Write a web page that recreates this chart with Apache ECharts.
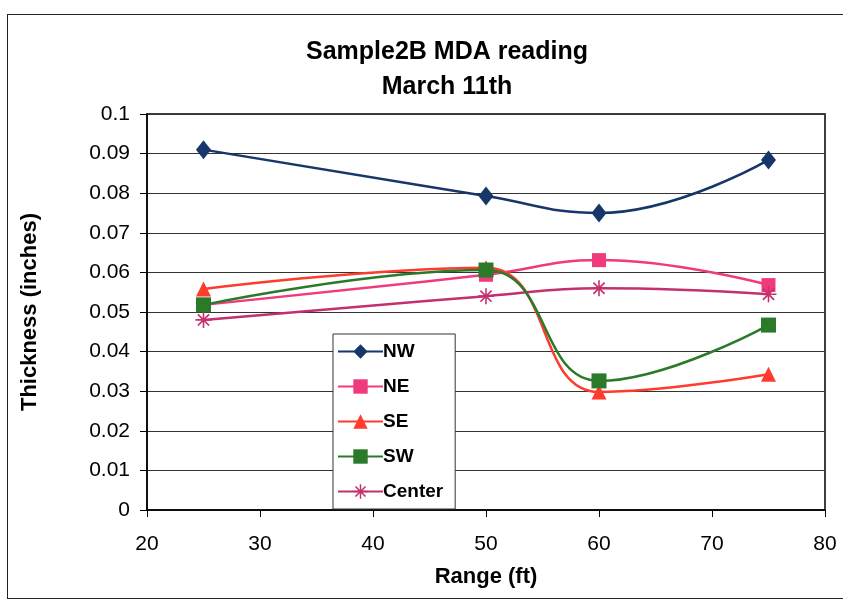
<!DOCTYPE html>
<html><head><meta charset="utf-8">
<script src="https://cdn.jsdelivr.net/npm/echarts@6/dist/echarts.min.js"></script>
<style>
html,body{margin:0;padding:0;background:#fff;}
#c{position:absolute;left:0;top:0;width:843px;height:604px;}
#frame{position:absolute;left:7px;top:14px;width:850px;height:583px;border:1.5px solid #222;pointer-events:none;}
</style></head>
<body>
<div id="c"></div>
<div id="frame"></div>
<script>
const ranges = [25, 50, 60, 75];
const nw = [0.091, 0.0793, 0.075, 0.0884];
const ne = [0.0518, 0.0594, 0.0631, 0.0568];
const se = [0.0558, 0.0612, 0.0298, 0.0343];
const sw = [0.0518, 0.0606, 0.0326, 0.0467];
const center = [0.048, 0.054, 0.056, 0.0545];
const seriesNames = ['NW', 'NE', 'SE', 'SW', 'Center'];
const yTicks = ['0','0.01','0.02','0.03','0.04','0.05','0.06','0.07','0.08','0.09','0.1'];

const asterisk = 'path://M-0.8,-8L0.8,-8L0.8,8L-0.8,8Z M-8,-0.8L8,-0.8L8,0.8L-8,0.8Z M-6.2,-5L-5,-6.2L6.2,5L5,6.2Z M5,-6.2L6.2,-5L-5,6.2L-6.2,5Z';

function pairs(arr){ return ranges.map((x,i)=>[x, arr[i]]); }

const defs = [
  {name:'NW', data:nw, color:'#17376b', symbol:'diamond', size:[15,19]},
  {name:'NE', data:ne, color:'#f03a7e', symbol:'rect', size:14},
  {name:'SE', data:se, color:'#ff3b2e', symbol:'triangle', size:15},
  {name:'SW', data:sw, color:'#2a7a2a', symbol:'rect', size:15},
  {name:'Center', data:center, color:'#c4306e', symbol:asterisk, size:16}
];

const FONT = 'Liberation Sans, Arial';
const chart = echarts.init(document.getElementById('c'));
chart.setOption({
  animation:false,
  backgroundColor:'#fff',
  title:{
    text:'Sample2B MDA reading\nMarch 11th',
    left:442, textAlign:'center', top:30,
    textStyle:{fontFamily:FONT, fontWeight:'bold', fontSize:25, lineHeight:35, color:'#000'}
  },
  grid:{left:147, right:18, top:114, bottom:94, show:true, borderColor:'#000', borderWidth:1.5, backgroundColor:'transparent'},
  xAxis:{
    type:'value', min:20, max:80, interval:10,
    name:'Range (ft)', nameLocation:'middle', nameGap:56,
    nameTextStyle:{fontFamily:FONT, fontWeight:'bold', fontSize:22, color:'#000'},
    axisLine:{show:true, lineStyle:{color:'#000', width:1.5}},
    axisTick:{show:true, inside:false, length:7, lineStyle:{color:'#000'}},
    axisLabel:{margin:24, fontFamily:FONT, fontSize:21, color:'#000'},
    splitLine:{show:false}
  },
  yAxis:{
    type:'value', min:0, max:0.1, interval:0.01,
    name:'Thickness (inches)', nameLocation:'middle', nameGap:106, nameRotate:90,
    nameTextStyle:{fontFamily:FONT, fontWeight:'bold', fontSize:22, color:'#000'},
    axisLine:{show:true, lineStyle:{color:'#000', width:1.5}},
    axisTick:{show:true, inside:false, length:7, lineStyle:{color:'#000'}},
    axisLabel:{margin:17, fontFamily:FONT, fontSize:21, color:'#000',
      formatter:(v)=>yTicks[Math.round(v*100)]},
    splitLine:{show:true, lineStyle:{color:'#333', width:1}}
  },
  legend:{
    orient:'vertical', left:333, top:334,
    data:seriesNames,
    backgroundColor:'#fff', borderColor:'#333', borderWidth:1,
    padding:[8,12,8,4], itemGap:16, itemWidth:45, itemHeight:18,
    textStyle:{fontFamily:FONT, fontWeight:'bold', fontSize:19, color:'#000', padding:[0,0,0,-5]}
  },
  series: defs.map(d=>({
    name:d.name, type:'line', data:pairs(d.data), smooth:0.45,
    symbol:d.symbol, symbolSize:d.size, showSymbol:true,
    lineStyle:{color:d.color, width:2.5},
    itemStyle:{color:d.color, borderWidth:0},
    z: d.name==='SW'?5:3
  }))
});
</script>
</body></html>
